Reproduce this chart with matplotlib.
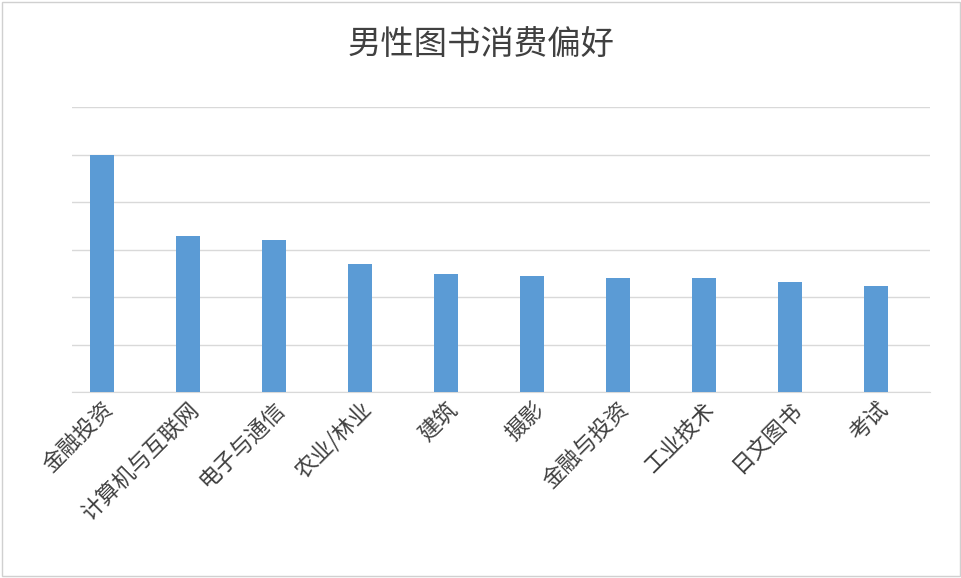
import matplotlib
matplotlib.use("Agg")
import matplotlib.pyplot as plt

plt.rcParams['font.family'] = ['Noto Sans CJK SC', 'DejaVu Sans']

categories = ["金融投资", "计算机与互联网", "电子与通信", "农业/林业", "建筑", "摄影", "金融与投资", "工业技术", "日文图书", "考试"]
values = [5.0, 3.28, 3.2, 2.69, 2.48, 2.44, 2.4, 2.4, 2.32, 2.23]

fig = plt.figure(figsize=(9.62, 5.78), dpi=100)
ax = fig.add_axes([72/962, 1-392/578, 858/962, 285/578])
x = range(len(categories))
ax.bar(x, values, width=0.27, color="#5B9BD5", zorder=3)
ax.set_xlim(-0.349, 9.628)
ax.set_ylim(0, 6)
ax.set_yticks(range(0, 7))
ax.set_yticklabels([])
ax.tick_params(axis='y', length=0)
ax.tick_params(axis='x', length=0, pad=4)
ax.grid(axis='y', color="#D9D9D9", linewidth=1, zorder=0)
for s in ["top", "right", "left"]:
    ax.spines[s].set_visible(False)
ax.spines["bottom"].set_color("#D9D9D9")
ax.set_xticks(list(x))
ax.set_xticklabels(categories, rotation=45, ha="right", rotation_mode="anchor",
                   fontsize=16, color="#404040")
fig.text(0.5, 1-45/578, "男性图书消费偏好", ha="center", va="center", fontsize=24, color="#404040")
fig.patches.append(plt.Rectangle((0.002, 0.003), 0.996, 0.994, transform=fig.transFigure,
                                 fill=False, edgecolor="#D0D0D0", linewidth=1))
fig.savefig("out.png", dpi=100)
